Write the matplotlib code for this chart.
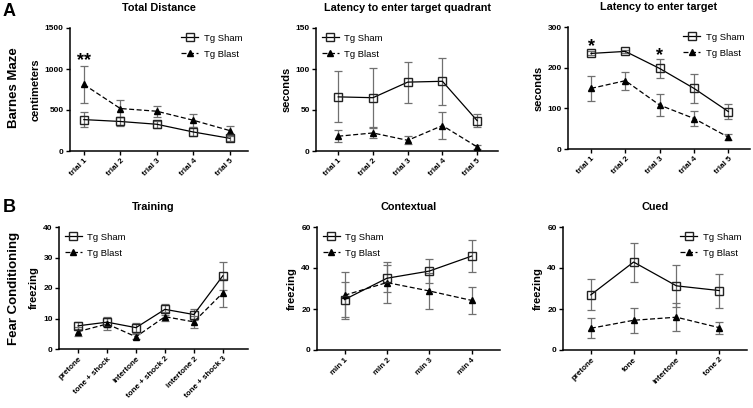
import matplotlib.pyplot as plt
from matplotlib.lines import Line2D

plt.rcParams['font.family'] = ['Liberation Sans', 'DejaVu Sans']

# Barnes maze
trials = ['trial 1', 'trial 2', 'trial 3', 'trial 4', 'trial 5']

dist_sham = [383, 360, 326, 232, 155]
dist_sham_err = [95, 60, 45, 55, 30]
dist_blast = [811, 518, 485, 375, 249]
dist_blast_err = [230, 100, 65, 80, 55]

quad_sham = [66, 65, 84, 85, 37]
quad_sham_err = [31, 36, 25, 29, 8]
quad_blast = [18, 22, 13, 31, 5]
quad_blast_err = [7.5, 6.5, 5, 16, 2]

targ_sham = [235, 240, 198, 149, 92]
targ_sham_err = [5, 3, 24, 36, 19]
targ_blast = [149, 168, 108, 75, 29]
targ_blast_err = [31, 22, 27, 19, 7]

# Fear conditioning
train_labels = ['pretone', 'tone + shock', 'intertone', 'tone + shock 2',
                'intertone 2', 'tone + shock 3']
train_sham = [7.6, 8.8, 7.0, 13.0, 11.3, 24.0]
train_sham_err = [1.2, 1.7, 1.6, 1.9, 1.9, 4.6]
train_blast = [5.7, 8.2, 4.0, 10.6, 8.9, 18.4]
train_blast_err = [1.5, 2.0, 0.8, 1.5, 1.9, 4.7]

ctx_labels = ['min 1', 'min 2', 'min 3', 'min 4']
ctx_sham = [24.6, 35.0, 38.5, 45.8]
ctx_sham_err = [8.6, 6.5, 6.0, 7.8]
ctx_blast = [26.7, 32.9, 28.8, 24.2]
ctx_blast_err = [11.4, 10.0, 9.0, 6.5]

cued_labels = ['pretone', 'tone', 'intertone', 'tone 2']
cued_sham = [26.9, 42.9, 31.3, 29.0]
cued_sham_err = [7.5, 9.5, 10.3, 8.3]
cued_blast = [10.6, 14.5, 16.0, 10.9]
cued_blast_err = [4.8, 6.2, 6.8, 2.9]

W, H = 753, 408
fig = plt.figure(figsize=(W / 100, H / 100), dpi=100)


def px_axes(x0, x1, ytop, ybot):
    return fig.add_axes([x0 / W, 1 - ybot / H, (x1 - x0) / W, (ybot - ytop) / H])


def panel(ax, labels, sham, sham_err, blast, blast_err, ylim, yticks, title,
          ylabel, xlim, legend_loc):
    x = list(range(len(labels)))
    ecol = '#707070'
    ax.errorbar(x, blast, yerr=blast_err, fmt='none', ecolor=ecol,
                elinewidth=0.9, capsize=3, capthick=0.9, zorder=2)
    ax.errorbar(x, sham, yerr=sham_err, fmt='none', ecolor=ecol,
                elinewidth=0.9, capsize=3, capthick=0.9, zorder=2)
    ax.plot(x, blast, color='black', ls=(0, (4, 2)), lw=0.9, marker='^',
            ms=4.5, mfc='black', mec='black', zorder=3)
    ax.plot(x, sham, color='black', lw=0.9, marker='s', ms=6,
            mfc='none', mec='#222222', mew=1.0, zorder=4)
    ax.set_xlim(*xlim)
    ax.set_ylim(*ylim)
    ax.set_yticks(yticks)
    ax.set_xticks(x)
    ax.set_xticklabels(labels, rotation=45, ha='right', rotation_mode='anchor',
                       fontsize=5.8, fontweight='bold')
    for t in ax.get_yticklabels():
        t.set_fontsize(6)
        t.set_fontweight('bold')
    ax.tick_params(length=3, width=1, pad=1.5)
    for s in ['top', 'right']:
        ax.spines[s].set_visible(False)
    for s in ['left', 'bottom']:
        ax.spines[s].set_linewidth(1.1)
    ax.set_title(title, fontsize=7.8, fontweight='bold', pad=12)
    ax.set_ylabel(ylabel, fontsize=8, fontweight='bold', labelpad=3)
    handles = [
        Line2D([], [], color='black', lw=0.9, marker='s', ms=6, mfc='none',
               mec='#222222', mew=1.0),
        Line2D([], [], color='black', ls=(0, (4, 2)), lw=0.9, marker='^',
               ms=4.5, mfc='black'),
    ]
    ax.legend(handles, ['Tg Sham', 'Tg Blast'], loc=legend_loc, frameon=False,
              fontsize=6.8, handlelength=1.8, handletextpad=0.6,
              labelspacing=0.75, borderaxespad=0.2)


ax1 = px_axes(70, 248, 28, 151)
panel(ax1, trials, dist_sham, dist_sham_err, dist_blast, dist_blast_err,
      (0, 1500), [0, 500, 1000, 1500], 'Total Distance', 'centimeters',
      (-0.38, 4.5), 'upper right')
ax1.text(0, 1100, '**', ha='center', va='center', fontsize=13, fontweight='bold')

ax2 = px_axes(316, 498, 28, 151)
panel(ax2, trials, quad_sham, quad_sham_err, quad_blast, quad_blast_err,
      (0, 150), [0, 50, 100, 150], 'Latency to enter target quadrant',
      'seconds', (-0.64, 4.6), 'upper left')

ax3 = px_axes(568, 750, 27, 149)
panel(ax3, trials, targ_sham, targ_sham_err, targ_blast, targ_blast_err,
      (0, 300), [0, 100, 200, 300], 'Latency to enter target', 'seconds',
      (-0.67, 4.63), 'upper right')
ax3.text(0, 252, '*', ha='center', va='center', fontsize=13, fontweight='bold')
ax3.text(2, 230, '*', ha='center', va='center', fontsize=13, fontweight='bold')

ax4 = px_axes(59, 248, 227, 349)
panel(ax4, train_labels, train_sham, train_sham_err, train_blast,
      train_blast_err, (0, 40), [0, 10, 20, 30, 40], 'Training', 'freezing',
      (-0.66, 5.87), 'upper left')

ax5 = px_axes(317, 500, 227, 350)
panel(ax5, ctx_labels, ctx_sham, ctx_sham_err, ctx_blast, ctx_blast_err,
      (0, 60), [0, 20, 40, 60], 'Contextual', 'freezing',
      (-0.65, 3.67), 'upper left')

ax6 = px_axes(563, 747, 227, 350)
panel(ax6, cued_labels, cued_sham, cued_sham_err, cued_blast, cued_blast_err,
      (0, 60), [0, 20, 40, 60], 'Cued', 'freezing',
      (-0.65, 3.65), 'upper right')

fig.text(3 / W, 1 - 12 / H, 'A', fontsize=13, fontweight='bold', va='center')
fig.text(3 / W, 1 - 208 / H, 'B', fontsize=13, fontweight='bold', va='center')
fig.text(14 / W, 1 - 88 / H, 'Barnes Maze', fontsize=9.5, fontweight='bold',
         rotation=90, ha='center', va='center')
fig.text(14 / W, 1 - 288 / H, 'Fear Conditioning', fontsize=9.5,
         fontweight='bold', rotation=90, ha='center', va='center')

fig.savefig('out.png', dpi=100)
